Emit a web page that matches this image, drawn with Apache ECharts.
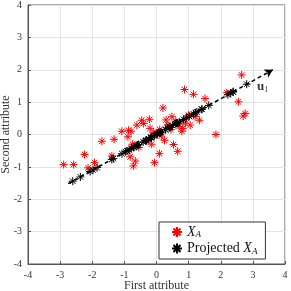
<!DOCTYPE html>
<html>
<head>
<meta charset="utf-8">
<script src="https://cdn.jsdelivr.net/npm/echarts@6/dist/echarts.min.js"></script>
<style>html,body{margin:0;padding:0;background:#fff}#c{width:291px;height:291px}</style>
</head>
<body>
<div id="c"></div>
<script>
var axisTicks = [-4, -3, -2, -1, 0, 1, 2, 3, 4];
var seriesNames = ['X_A', 'Projected X_A'];
var redX = [-2.89,-2.58,-2.24,-2.13,-1.93,-1.70,-1.32,-1.39,-1.08,-0.87,-0.79,-0.89,-0.82,-0.72,-0.66,-0.61,-0.46,-0.40,-0.22,-0.20,-0.06,0.09,0.20,0.25,0.48,0.53,0.66,0.79,0.82,0.87,1.15,1.05,1.34,1.51,1.85,2.19,2.55,2.65,2.70,2.76,0.00,0.10,-0.30,0.35,0.60,0.70,-0.55,1.00,0.15,-0.10,0.45,-0.75,0.90,1.20,0.30,-0.15];
var redY = [-0.93,-0.93,-0.62,-1.03,-0.87,-0.21,-0.15,-0.66,0.10,0.13,0.10,-0.07,-0.69,-0.97,-0.82,0.29,0.44,0.34,0.47,0.19,-0.87,-0.59,0.82,-0.18,0.55,-0.31,-0.52,0.10,0.19,1.39,1.24,0.29,0.44,1.11,0.00,1.29,1.01,1.84,0.57,0.65,0.05,0.15,-0.20,0.30,0.40,0.25,-0.40,0.60,-0.05,0.05,0.15,-0.30,0.35,0.55,0.45,-0.30];
var projX = [-2.607,-2.370,-1.978,-2.067,-1.847,-1.391,-1.075,-1.344,-0.785,-0.611,-0.563,-0.711,-0.920,-0.962,-0.853,-0.344,-0.166,-0.162,0.031,-0.073,-0.415,-0.181,0.500,0.115,0.601,0.275,0.285,0.647,0.708,1.255,1.406,0.927,1.212,1.626,1.417,2.223,2.381,2.808,2.309,2.389,0.021,0.140,-0.315,0.395,0.628,0.642,-0.590,1.020,0.094,-0.056,0.409,-0.701,0.837,1.152,0.421,-0.242];
var projY = [-1.442,-1.311,-1.094,-1.143,-1.022,-0.769,-0.594,-0.744,-0.434,-0.338,-0.311,-0.393,-0.509,-0.532,-0.472,-0.190,-0.092,-0.090,0.017,-0.040,-0.229,-0.100,0.277,0.064,0.332,0.152,0.158,0.358,0.392,0.695,0.778,0.513,0.671,0.900,0.784,1.230,1.317,1.554,1.278,1.321,0.012,0.077,-0.174,0.218,0.348,0.356,-0.327,0.565,0.052,-0.030,0.226,-0.388,0.463,0.637,0.232,-0.134];
var arrowStart = [-2.75, -1.52];
var arrowEnd = [3.62, 2.0];
var labelPos = [3.3, 1.47];

function pairs(xs, ys) { return xs.map(function (x, i) { return [x, ys[i]]; }); }
var star = 'path://M5 0L5 10M0 5L10 5M1.5 1.5L8.5 8.5M1.5 8.5L8.5 1.5';
var serif = 'Liberation Serif';

var chart = echarts.init(document.getElementById('c'));
var axisCommon = {
  type: 'value', min: -4, max: 4, interval: 1,
  axisLine: { show: true, onZero: false, lineStyle: { color: '#555', width: 1 } },
  axisTick: { show: true, inside: true, length: 3, lineStyle: { color: '#555' } },
  splitLine: { show: true, lineStyle: { color: '#e3e3e3', width: 1 } },
  axisLabel: { color: '#333', fontFamily: serif, fontSize: 10, margin: 6 },
  nameLocation: 'middle',
  nameMoveOverlap: false,
  nameTextStyle: { color: '#333', fontFamily: serif, fontSize: 12 }
};
chart.setOption({
  animation: false,
  grid: { left: 28, right: 6, top: 5, bottom: 27, show: true, borderColor: '#555', borderWidth: 1, containLabel: false, outerBoundsMode: 'none' },
  xAxis: Object.assign({}, axisCommon, { name: 'First attribute', nameGap: 16 }),
  yAxis: Object.assign({}, axisCommon, { name: 'Second attribute', nameGap: 16 }),
  legend: {
    data: seriesNames, orient: 'vertical', left: 159, top: 222,
    padding: [3, 8, 3, 12], itemGap: 2, itemWidth: 10, itemHeight: 10,
    backgroundColor: '#fff', borderColor: '#333', borderWidth: 1, borderRadius: 0,
    formatter: function (n) { return n === 'X_A' ? '{i|X}{s|A}' : 'Projected {i|X}{s|A}'; },
    textStyle: {
      fontFamily: serif, fontSize: 14, color: '#111',
      rich: {
        i: { fontFamily: serif, fontStyle: 'italic', fontSize: 14, color: '#111' },
        s: { fontFamily: serif, fontStyle: 'italic', fontSize: 9, color: '#111', verticalAlign: 'bottom', padding: [6, 0, 0, 0] }
      }
    }
  },
  series: [
    {
      name: 'X_A', type: 'scatter', data: pairs(redX, redY), symbol: star, symbolSize: 8,
      itemStyle: { color: 'rgba(0,0,0,0)', borderColor: '#ff0000', borderWidth: 1, opacity: 1 },
      z: 2
    },
    {
      name: 'Projected X_A', type: 'scatter', data: pairs(projX, projY), symbol: star, symbolSize: 8,
      itemStyle: { color: 'rgba(0,0,0,0)', borderColor: '#000', borderWidth: 1, opacity: 1 },
      z: 4
    },
    {
      name: 'u1', type: 'scatter', data: [labelPos], symbol: 'circle', symbolSize: 2, silent: true, z: 5,
      itemStyle: { color: 'rgba(0,0,0,0)' },
      label: {
        show: true, position: 'inside', formatter: '{b|u}{s|1}',
        rich: {
          b: { fontFamily: serif, fontWeight: 'bold', fontSize: 13, color: '#000' },
          s: { fontFamily: serif, fontSize: 8, color: '#000', verticalAlign: 'bottom', padding: [6, 0, 0, 0] }
        }
      },
      markLine: {
        silent: true, symbol: ['none', 'arrow'], symbolSize: [7, 8],
        lineStyle: { color: '#000', width: 1.5, type: [4, 3] },
        label: { show: false },
        data: [[{ coord: arrowStart }, { coord: arrowEnd }]]
      }
    }
  ]
});
</script>
</body>
</html>
